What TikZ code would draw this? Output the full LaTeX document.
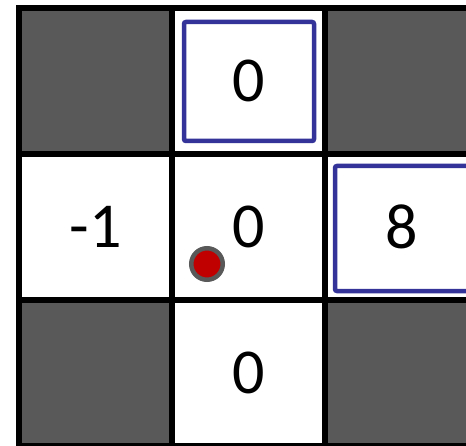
\documentclass[tikz,border=0pt]{standalone}
\usepackage{fontspec}
\setmainfont{Carlito}
\definecolor{wallgray}{HTML}{595959}
\definecolor{boxblue}{HTML}{333399}
\definecolor{dotred}{HTML}{C00000}
\tikzset{
  cell/.style={draw=black, line width=6bp, minimum width=153bp, minimum height=146bp, inner sep=0pt, outer sep=0pt, font=\fontsize{64bp}{70bp}\selectfont},
  wall/.style={cell, fill=wallgray},
  open/.style={cell, fill=white},
  goalbox/.style={draw=boxblue, line width=4.5bp, rounded corners=2bp, inner sep=0pt},
  agent/.style={circle, draw=wallgray, fill=dotred, line width=4.5bp, minimum size=31.5bp, inner sep=0pt}
}
\begin{document}
\begin{tikzpicture}[x=1bp,y=-1bp]
\useasboundingbox (0,0) rectangle (466,446);
\clip (0,0) rectangle (466,446);
% goal boxes drawn first (behind text)
\node[open] (c11) at (248.5,81) {};
\node[open] (c20) at (95.5,227) {};
\node[open] (c21) at (248.5,227) {};
\node[open] (c22) at (401.5,227) {};
\node[open] (c31) at (248.5,373) {};
\node[wall] (c10) at (95.5,81) {};
\node[wall] (c12) at (401.5,81) {};
\node[wall] (c30) at (95.5,373) {};
\node[wall] (c32) at (401.5,373) {};
\node[goalbox, minimum width=130bp, minimum height=119bp] (g1) at (249,81.5) {};
\node[goalbox, minimum width=134bp, minimum height=125bp] (g2) at (402,228.5) {};
\node[font=\fontsize{64bp}{70bp}\selectfont] (t11) at (c11.center) {0};
\node[font=\fontsize{64bp}{70bp}\selectfont] (t20) at (c20.center) {-1};
\node[font=\fontsize{64bp}{70bp}\selectfont] (t21) at (c21.center) {0};
\node[font=\fontsize{64bp}{70bp}\selectfont] (t22) at (c22.center) {8};
\node[font=\fontsize{64bp}{70bp}\selectfont] (t31) at (c31.center) {0};
\node[agent] (a) at (207,264) {};
\end{tikzpicture}
\end{document}
